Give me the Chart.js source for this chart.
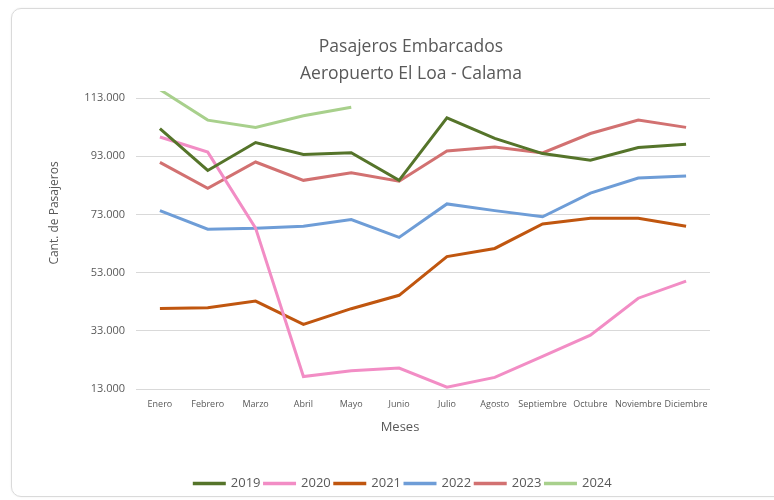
<!DOCTYPE html>
<html>
<head>
<meta charset="utf-8">
<script src="https://cdn.jsdelivr.net/npm/chart.js@4.4.1/dist/chart.umd.min.js"></script>
<style>
  html, body { margin: 0; padding: 0; background: #fff; overflow: hidden; }
  #page { position: relative; width: 774px; height: 500px; overflow: hidden; }
  .card { position: absolute; left: 11px; top: 8px; right: -60px; bottom: 3px;
          border: 1px solid #dadada; border-radius: 10px; box-shadow: 0 0 2px rgba(0,0,0,0.08); }
  #wrap { position: absolute; left: 0; top: 0; width: 774px; height: 500px; }
</style>
</head>
<body>
<div id="page">
<div class="card"></div>
<div id="wrap"><canvas id="chart"></canvas></div>
</div>
<script>
const meses = ["Enero", "Febrero", "Marzo", "Abril", "Mayo", "Junio", "Julio", "Agosto",
  "Septiembre", "Octubre", "Noviembre", "Diciembre"];
const anios = ["2019", "2020", "2021", "2022", "2023", "2024"];

const pax2019 = [102500, 88100, 97700, 93600, 94200, 84700, 106200, 99100, 93900, 91600, 96000, 97100];
const pax2020 = [99600, 94400, 68300, 17300, 19300, 20200, 13600, 17000, 24200, 31500, 44200, 50100];
const pax2021 = [40700, 40900, 43200, 35200, 40600, 45200, 58500, 61300, 69700, 71700, 71700, 68900];
const pax2022 = [74300, 67900, 68200, 68900, 71200, 65100, 76600, 74300, 72200, 80300, 85500, 86200];
const pax2023 = [90900, 82000, 91000, 84700, 87300, 84400, 94800, 96200, 94100, 100800, 105400, 102900];
const pax2024 = [115900, 105400, 102900, 106900, 109800];

const yMin = 13000, yMax = 113000, yStep = 20000;

const series = [pax2019, pax2020, pax2021, pax2022, pax2023, pax2024];
const colores = ["#55742a", "#f28dc5", "#c0560f", "#6e9dd7", "#d27171", "#a8d08c"];

const gris = "#595959";
const fuente = "'Open Sans', 'DejaVu Sans', sans-serif";

// miles con punto, como en Excel es-CL
const fmt = (v) => String(v).replace(/\B(?=(\d{3})+(?!\d))/g, ".");

// titulos al estilo Excel (centrados sobre todo el grafico, no sobre el area)
const titulosPlugin = {
  id: "titulos",
  afterDraw(chart) {
    const ctx = chart.ctx;
    ctx.save();
    ctx.fillStyle = gris;
    ctx.textAlign = "center";
    ctx.textBaseline = "alphabetic";
    ctx.font = `17.5px ${fuente}`;
    ctx.fillText("Pasajeros Embarcados", 411, 52);
    ctx.fillText("Aeropuerto El Loa - Calama", 411, 79);

    ctx.font = `13px ${fuente}`;
    ctx.textBaseline = "middle";
    ctx.fillText("Meses", 400, 427);

    ctx.font = `12px ${fuente}`;
    ctx.translate(55, 213);
    ctx.rotate(-Math.PI / 2);
    ctx.fillText("Cant. de Pasajeros", 0, 0);
    ctx.restore();
  }
};

// la leyenda de Excel queda centrada un poco a la izquierda del area de trazado
const leyendaPlugin = {
  id: "leyendaPos",
  afterLayout(chart) {
    const lg = chart.legend;
    if (!lg) return;
    const dx = 403 - (lg.left + lg.right) / 2;
    lg.left += dx;
    lg.right += dx;
  }
};

const datasets = anios.map((a, i) => ({
  label: a,
  data: series[i],
  borderColor: colores[i],
  backgroundColor: colores[i],
  borderWidth: 3,
  pointRadius: 0,
  pointHoverRadius: 0,
  tension: 0,
  clip: { left: 10, top: 7, right: 10, bottom: 10 }
}));

new Chart(document.getElementById("chart"), {
  type: "line",
  data: { labels: meses, datasets },
  options: {
    responsive: true,
    maintainAspectRatio: false,
    animation: false,
    layout: { padding: { top: 98, left: 76, right: 64, bottom: 0 } },
    plugins: {
      title: { display: false },
      tooltip: { enabled: false },
      legend: {
        position: "bottom",
        labels: {
          color: gris,
          font: { family: fuente, size: 13 },
          boxWidth: 30,
          boxHeight: 0.5,
          padding: 4
        }
      }
    },
    scales: {
      x: {
        offset: true,
        grid: { display: false, drawTicks: false },
        border: { display: false },
        ticks: { color: gris, font: { family: fuente, size: 9 }, padding: 10, maxRotation: 0, autoSkip: false },
        afterFit(s) { s.height = 84; }
      },
      y: {
        min: yMin,
        max: yMax,
        grid: { color: "#d9d9d9", lineWidth: 1, drawTicks: false },
        border: { display: false },
        ticks: {
          stepSize: yStep,
          color: gris,
          font: { family: fuente, size: 11 },
          padding: 11,
          callback: (v) => fmt(v)
        },
        afterFit(s) { s.width = 60; }
      }
    }
  },
  plugins: [titulosPlugin, leyendaPlugin]
});
</script>
</body>
</html>
